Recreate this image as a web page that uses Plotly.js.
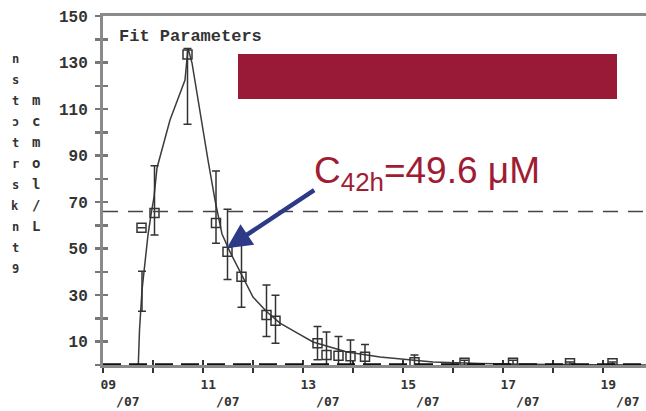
<!DOCTYPE html>
<html><head><meta charset="utf-8">
<script src="https://cdn.plot.ly/plotly-3.0.1.min.js"></script>
<style>html,body{margin:0;padding:0;background:#fff}#chart{width:646px;height:411px}</style>
</head><body><div id="chart"></div>
<script>
// ---- data ----
const ptDays   = [9.77, 10.03, 10.69, 11.26, 11.49, 11.77, 12.27, 12.45, 13.29, 13.47, 13.71, 13.95, 14.24, 15.23, 16.23, 17.20, 18.34, 19.19];
const ptVals   = [59.0, 65.3, 133.5, 61.0, 48.7, 37.9, 21.5, 19.0, 9.3, 4.3, 4.0, 3.8, 3.5, 1.2, 1.0, 1.0, 0.8, 0.8];
const ptErrUp  = [0, 20.3, 2.5, 22.4, 18.2, 14.4, 12.9, 11.0, 7.2, 9.9, 8.2, 6.9, 5.3, 3.1, 1.0, 1.0, 0.5, 0.5];
const ptErrDn  = [0, 9.4, 30.0, 8.7, 11.9, 13.1, 9.3, 9.7, 7.0, 5.0, 5.0, 5.0, 5.0, 2.0, 1.0, 1.0, 0.5, 0.5];
const ghostDay = [9.78];
const ghostVal = [31.7];
const ghostErr = [8.6];
const fitDays  = [9.706, 9.73, 9.78, 9.84, 9.90, 9.96, 10.02, 10.08, 10.34, 10.64, 10.70, 10.78, 10.94, 11.10, 11.24, 11.38, 11.54, 11.76, 12.00, 12.28, 12.54, 12.88, 13.20, 13.88, 14.54, 15.60, 16.54, 17.94, 19.86];
const fitVals  = [0, 15.0, 32.2, 45.1, 55.9, 64.5, 72.2, 84.7, 105.3, 122.5, 136.2, 129.8, 108.3, 88.1, 70.9, 56.3, 48.6, 39.5, 29.2, 22.8, 18.0, 13.8, 9.9, 5.6, 3.4, 1.3, 0.6, 0.2, 0];
const refLevel = 66;
const xTickVals = [9, 11, 13, 15, 17, 19];
const xTickDays = ["09", "11", "13", "15", "17", "19"];
const xTickMonth = "07";
const yTickVals = [10, 30, 50, 70, 90, 110, 130, 150];
const yTickText = ["10", "30", "50", "70", "90", "110", "130", "150"];
const leftCol1 = ["n", "s", "t", "ɔ", "t", "r", "s", "k", "n", "t", "9"];
const leftCol2 = ["m", "c", "m", "o", "l", "/", "L"];
const boxTitle = "Fit Parameters";
const resultText = "C<sub>42h</sub>=49.6 μM";
const arrowTip = {day: 11.474, val: 50.2};

// ---- layout helpers (pixel -> paper) ----
const L = 103, T = 16, W = 543, H = 349;
const px = x => (x - L) / W;
const py = y => (T + H - y) / H;
const NB = "\u00a0";

const xTickText = xTickDays.map(d => d + NB + NB + NB + "<br>" + NB + NB + "/" + xTickMonth);

const traces = [
  {x: fitDays, y: fitVals, mode: "lines", line: {color: "#3c3c3c", width: 1.5}, hoverinfo: "skip"},
  {x: ghostDay, y: ghostVal, mode: "markers", marker: {opacity: 0, size: 2},
   error_y: {type: "data", array: ghostErr, color: "#333", thickness: 1.5, width: 4}},
  {x: ptDays, y: ptVals, mode: "markers",
   marker: {symbol: "square-open", size: 9, color: "#333", line: {width: 1.5, color: "#333"}},
   error_y: {type: "data", symmetric: false, array: ptErrUp, arrayminus: ptErrDn, color: "#333", thickness: 1.5, width: 4}},
  {x: [9], y: [0], xaxis: "x2", yaxis: "y2", mode: "markers", marker: {opacity: 0}, hoverinfo: "skip"}
];

const annotations = [
  {xref: "paper", yref: "paper", x: px(117), y: py(36), xanchor: "left", yanchor: "middle", showarrow: false,
   text: boxTitle, font: {family: "Liberation Mono", size: 17, color: "#333", weight: "bold"}},
  {xref: "paper", yref: "paper", x: px(312), y: py(173), xanchor: "left", yanchor: "middle", showarrow: false,
   text: resultText, font: {family: "Liberation Sans", size: 37, color: "#A01C34"}},
  {xref: "x", yref: "y", x: arrowTip.day, y: arrowTip.val, ax: 89, ay: -59, showarrow: true,
   arrowhead: 2, arrowsize: 1.1, arrowwidth: 4.5, arrowcolor: "#2C3A88", text: ""}
];
leftCol1.forEach((c, i) => annotations.push({xref: "paper", yref: "paper", x: px(15), y: py(59 + 21 * i),
  xanchor: "center", yanchor: "middle", showarrow: false, text: c,
  font: {family: "DejaVu Sans Mono", size: 12, color: "#333", weight: "bold"}}));
leftCol2.forEach((c, i) => annotations.push({xref: "paper", yref: "paper", x: px(36), y: py(100 + 21 * i),
  xanchor: "center", yanchor: "middle", showarrow: false, text: c,
  font: {family: "DejaVu Sans Mono", size: 14, color: "#333", weight: "bold"}}));

const layout = {
  width: 646, height: 411,
  margin: {l: L, r: 0, t: T, b: 411 - T - H, pad: 0},
  paper_bgcolor: "#fff", plot_bgcolor: "#fff", showlegend: false,
  xaxis: {range: [9, 9 + W / 50], showgrid: false, zeroline: false, showline: true, mirror: true,
    linecolor: "#8a8a8a", linewidth: 3, ticks: "outside", ticklen: 5, tickwidth: 1.5, tickcolor: "#333",
    tickmode: "array", tickvals: xTickVals, ticktext: xTickText, ticklabelshift: 17, ticklabelstandoff: 0,
    minor: {tick0: 9, dtick: 1, ticks: "outside", ticklen: 5, tickwidth: 1.5, tickcolor: "#333"},
    tickfont: {family: "DejaVu Sans Mono", size: 13, color: "#333", weight: "bold"}},
  yaxis: {range: [0, 150], showgrid: false, zeroline: false, showline: true,
    linecolor: "#8a8a8a", linewidth: 3, ticks: "outside", ticklen: 5, tickwidth: 2.5, tickcolor: "#777",
    tickmode: "array", tickvals: yTickVals, ticktext: yTickText, ticklabelstandoff: 4,
    minor: {tick0: 0, dtick: 10, ticks: "outside", ticklen: 5, tickwidth: 2.5, tickcolor: "#777"},
    tickfont: {family: "Liberation Mono", size: 16, color: "#333", weight: "bold"}},
  xaxis2: {overlaying: "x", anchor: "y", range: [9, 9 + W / 50], showgrid: false, zeroline: false, showline: false,
    ticks: "inside", ticklen: 5, tickwidth: 1.5, tickcolor: "#333", tick0: 9, dtick: 1, showticklabels: false},
  yaxis2: {overlaying: "y", anchor: "x", side: "left", range: [0, 150], showgrid: false, zeroline: false, showline: false,
    ticks: "inside", ticklen: 5, tickwidth: 2.5, tickcolor: "#777", tick0: 0, dtick: 10, showticklabels: false},
  shapes: [
    {type: "line", xref: "x", yref: "y", x0: 9, x1: 9 + W / 50, y0: refLevel, y1: refLevel,
     line: {color: "#444", width: 1.5, dash: "15px,10px"}},
    {type: "line", xref: "x", yref: "y", x0: 9, x1: 9 + W / 50, y0: 0, y1: 0,
     line: {color: "#111", width: 3.5, dash: "18px,8px"}},
    {type: "rect", xref: "paper", yref: "paper", x0: px(238), x1: px(617), y0: py(99), y1: py(54),
     fillcolor: "#991A36", line: {width: 0}}
  ],
  annotations: annotations
};

Plotly.newPlot("chart", traces, layout, {displayModeBar: false, staticPlot: true});
</script></body></html>
